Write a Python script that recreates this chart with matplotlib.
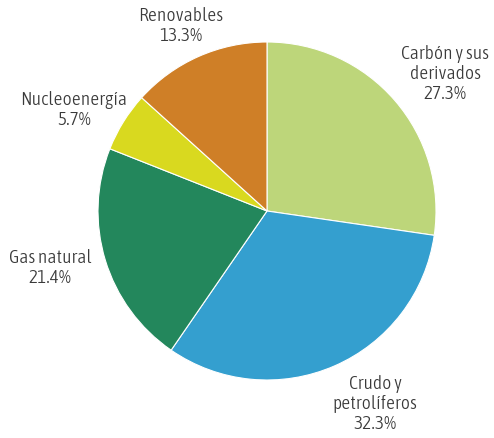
import matplotlib
matplotlib.use('Agg')
import matplotlib.pyplot as plt
from matplotlib import font_manager

# energy mix shares, clockwise from the top
labels = ['Carbón y sus\nderivados', 'Crudo y\npetrolíferos', 'Gas natural',
          'Nucleoenergía', 'Renovables']
shares = [27.3, 32.3, 21.4, 5.7, 13.3]
colors = ['#bdd67a', '#349fcf', '#23875c', '#d9d91f', '#cf7f27']

# label centres in pixels (x from left, y from top)
label_pos = [(445, 74), (375, 404), (50, 268), (74, 110), (181, 26)]


def narrow_font():
    # pick a condensed sans face if one is installed, light weight first
    fonts = font_manager.fontManager.ttflist

    def condensed(f):
        return ('Narrow' in f.name or 'Condensed' in f.name or
                'ondensed' in str(f.stretch) or 'Condensed' in f.fname)

    for weights in [(300, 'light'), (400, 'normal', 'regular')]:
        for f in fonts:
            if condensed(f) and f.weight in weights and f.style == 'normal':
                return font_manager.FontProperties(fname=f.fname), 14
    return font_manager.FontProperties(family='DejaVu Sans'), 11


fprop, fsize = narrow_font()

W, H = 494, 438
fig = plt.figure(figsize=(W / 100, H / 100), dpi=100)

cx, cy, r = 267, 211, 169
ax = fig.add_axes([(cx - r) / W, (H - cy - r) / H, 2 * r / W, 2 * r / H])
ax.pie(shares, colors=colors, startangle=90, counterclock=False, radius=1,
       wedgeprops=dict(edgecolor='white', linewidth=0.8))
ax.set_xlim(-1, 1)
ax.set_ylim(-1, 1)
ax.set_axis_off()

for lab, val, (px, py) in zip(labels, shares, label_pos):
    t = fig.text(px / W, 1 - py / H, f'{lab}\n{val:.1f}%', ha='center', va='center',
                 multialignment='center', color='#3a3a3a', linespacing=1.15,
                 fontproperties=fprop)
    t.set_fontsize(fsize)

fig.savefig('out.png', dpi=100, facecolor='white')
